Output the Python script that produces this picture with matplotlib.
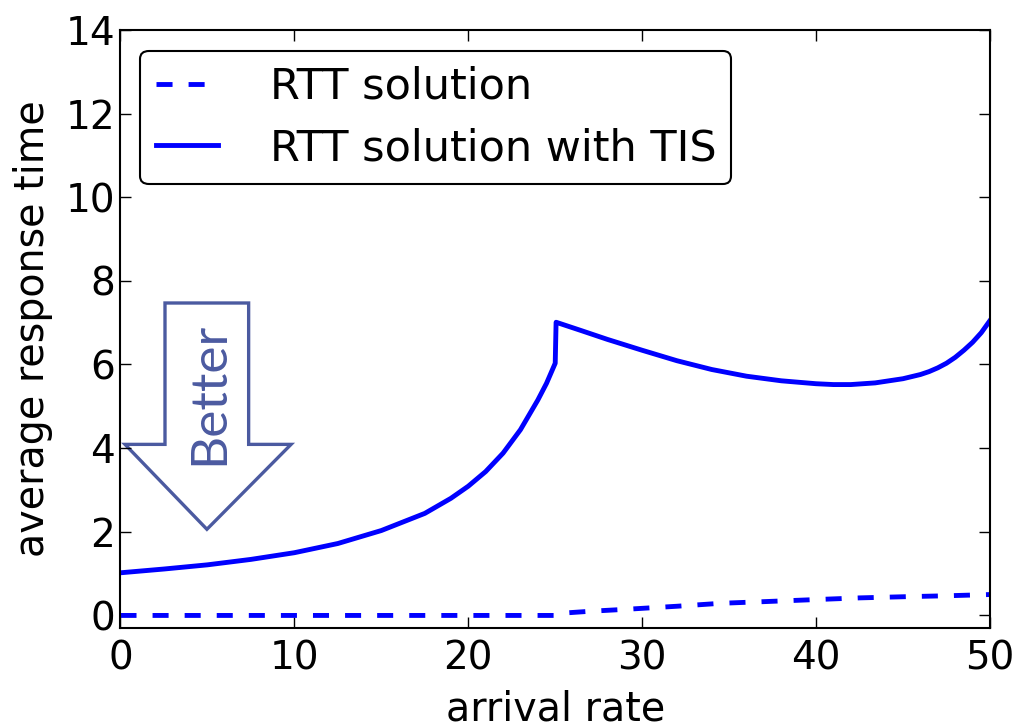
import matplotlib.pyplot as plt
from matplotlib.patches import Polygon

# data
x_rtt = [0, 5, 10, 15, 20, 25, 25.6, 27, 29.2, 32, 34.5, 37, 40, 42.5, 45.3, 47.5, 50]
y_rtt = [0, 0, 0, 0, 0, 0, 0.06, 0.1, 0.15, 0.22, 0.29, 0.33, 0.38, 0.42, 0.45, 0.47, 0.5]

x_tis = [0, 2.5, 5, 7.5, 10, 12.5, 15, 17.5, 19, 20, 21, 22, 23, 24, 24.5, 25.0,
         25.05, 26.5, 28, 30, 32, 34, 36, 38, 40, 41, 42, 43.4, 45, 46, 46.5,
         47, 47.5, 48, 48.5, 49, 49.5, 50]
y_tis = [1.02, 1.11, 1.21, 1.34, 1.5, 1.72, 2.03, 2.44, 2.8, 3.09, 3.44, 3.88, 4.44, 5.15, 5.55, 6.03,
         7.01, 6.81, 6.6, 6.34, 6.09, 5.88, 5.72, 5.61, 5.54, 5.52, 5.52, 5.56, 5.66, 5.76, 5.83,
         5.92, 6.03, 6.17, 6.34, 6.53, 6.76, 7.05]

BLUE = "#0000ff"
ARROW_C = "#4b5aa0"

plt.rcParams["font.family"] = "DejaVu Sans"

fig = plt.figure(figsize=(10.21, 7.25), dpi=100)
ax = fig.add_axes([0.118, 0.1338, 0.8516, 0.825])

ax.plot(x_rtt, y_rtt, color=BLUE, lw=3.5, dashes=(3.3, 3.3),
        dash_capstyle="butt", label="RTT solution")
ax.plot(x_tis, y_tis, color=BLUE, lw=3.5, label="RTT solution with TIS")

# "Better" arrow
arrow = Polygon([(2.56, 7.47), (7.37, 7.47), (7.37, 4.09), (9.81, 4.09),
                 (4.97, 2.06), (0.26, 4.09), (2.56, 4.09)],
                closed=True, fill=False, edgecolor=ARROW_C, lw=2.4,
                joinstyle="miter")
ax.add_patch(arrow)
ax.text(5.1, 5.3, "Better", rotation=90, ha="center", va="center",
        color=ARROW_C, fontsize=37, family="Lato")

ax.set_xlim(0, 50)
ax.set_ylim(-0.3, 14)
ax.set_xticks([0, 10, 20, 30, 40, 50])
ax.set_yticks([0, 2, 4, 6, 8, 10, 12, 14])
ax.tick_params(direction="in", length=8, width=1, top=True, right=True,
               labelsize=28, pad=4)
ax.tick_params(axis="x", pad=8)
for s in ax.spines.values():
    s.set_linewidth(1.5)

ax.set_xlabel("arrival rate", fontsize=28.5, labelpad=9)
ax.set_ylabel("average response time", fontsize=28.5, labelpad=9)

leg = ax.legend(loc="upper left", fontsize=31, handlelength=1.45,
                handletextpad=1.2, borderpad=0.35, labelspacing=0.45,
                borderaxespad=0, fancybox=True, framealpha=1,
                edgecolor="black", bbox_to_anchor=(0.023, 0.965))
leg.get_frame().set_linewidth(1.5)

fig.savefig("out.png", dpi=100)
